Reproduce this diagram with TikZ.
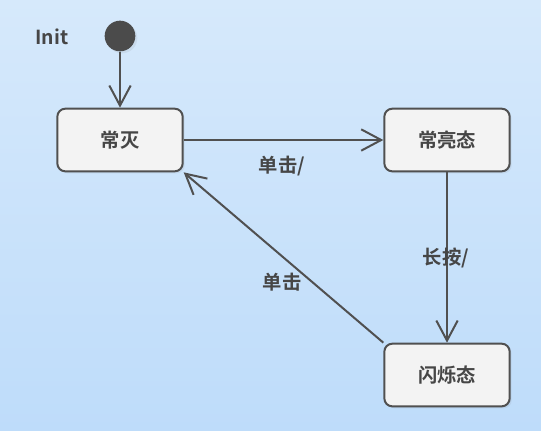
\documentclass[tikz,border=0pt]{standalone}
\usepackage{fontspec}
\setmainfont{Noto Sans CJK SC}[BoldFont={* Bold}]
\usepackage{tikz}
\usetikzlibrary{arrows.meta,shadows}
\definecolor{smedge}{RGB}{80,80,80}
\definecolor{smfill}{RGB}{243,243,243}
\definecolor{smink}{RGB}{70,70,70}
\definecolor{smdot}{RGB}{75,75,75}
\definecolor{smbgtop}{RGB}{214,233,251}
\definecolor{smbgbot}{RGB}{190,220,250}
\tikzset{
  state/.style={
    draw=smedge, fill=smfill, line width=1.5pt, rounded corners=6pt,
    minimum width=94pt, minimum height=47pt, align=center,
    font=\bfseries\fontsize{14.5}{16}\selectfont, text=smink,
    drop shadow={opacity=0.12, shadow xshift=1.5pt, shadow yshift=-1.5pt}
  },
  initdot/.style={
    circle, fill=smdot, minimum size=23pt, inner sep=0pt,
    drop shadow={opacity=0.12, shadow xshift=1.5pt, shadow yshift=-1.5pt}
  },
  trans/.style={-{Straight Barb[length=15pt,width=16pt,line width=1.5pt]},
    draw=smedge, line width=1.5pt},
  lbl/.style={font=\bfseries\fontsize{14.5}{16}\selectfont, text=smink}
}
\begin{document}
\begin{tikzpicture}[x=0.75pt,y=-0.75pt]
  \shade[top color=smbgtop, bottom color=smbgbot] (0,0) rectangle (541,430);
  \useasboundingbox (0,0) rectangle (541,430);
  \node[initdot] (init) at (120,36) {};
  \node[lbl] (initname) at (52,37) {Init};
  \node[state] (off) at (120,140) {常灭};
  \node[state] (on) at (447,140) {常亮态};
  \node[state] (flash) at (447,375) {闪烁态};
  \draw[trans] (init) -- (off);
  \draw[trans] (off) -- (on);
  \draw[trans] (on) -- (flash);
  \draw[trans] (flash.north west) -- (off.south east);
  \node[lbl] (click1) at (282,166) {单击/};
  \node[lbl] (hold) at (446,258) {长按/};
  \node[lbl] (click2) at (282,282) {单击};
\end{tikzpicture}
\end{document}
